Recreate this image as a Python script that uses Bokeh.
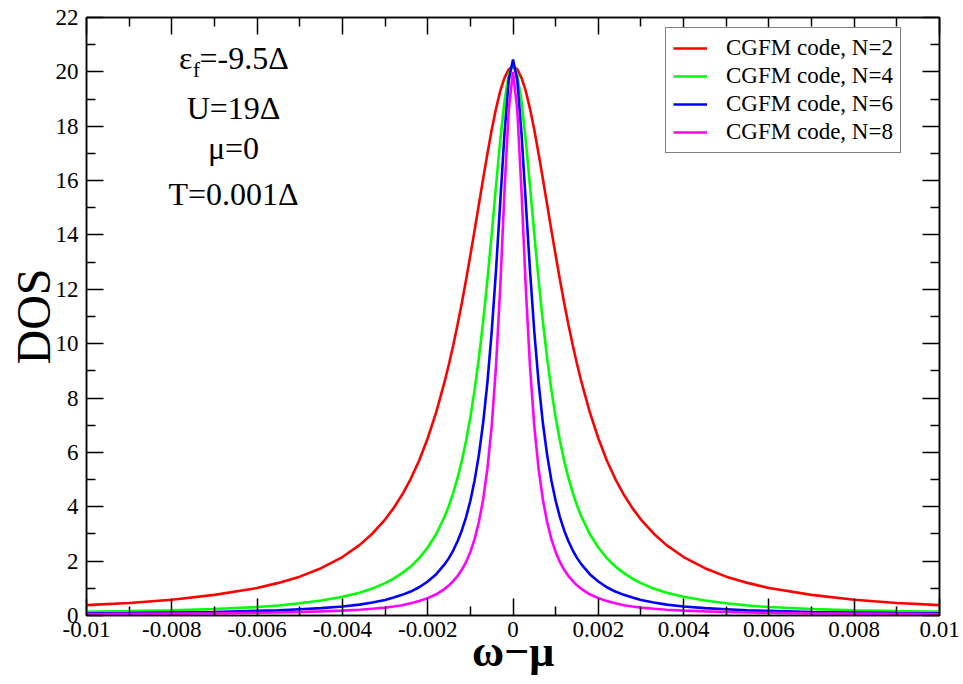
from bokeh.plotting import figure
from bokeh.models import Range1d, LinearAxis, Label, Legend, LegendItem, FixedTicker
from bokeh.embed import file_html
from bokeh.resources import INLINE

# ---- data ----
omega = [-0.01, -0.009, -0.008, -0.007, -0.006, -0.0055, -0.005, -0.0045, -0.004, -0.0036,
         -0.0033, -0.003, -0.0028, -0.0026, -0.0024, -0.0022, -0.002, -0.0018, -0.0016, -0.0015,
         -0.0014, -0.0013, -0.0012, -0.0011, -0.001, -0.0009, -0.0008, -0.0007, -0.0006, -0.0005,
         -0.0004, -0.0003, -0.0002, -0.0001, 0.0,
         0.0001, 0.0002, 0.0003, 0.0004, 0.0005, 0.0006, 0.0007, 0.0008, 0.0009, 0.001,
         0.0011, 0.0012, 0.0013, 0.0014, 0.0015, 0.0016, 0.0018, 0.002, 0.0022, 0.0024,
         0.0026, 0.0028, 0.003, 0.0033, 0.0036, 0.004, 0.0045, 0.005, 0.0055, 0.006,
         0.007, 0.008, 0.009, 0.01]

dos_n2 = [0.38, 0.46, 0.58, 0.76, 1.01, 1.20, 1.43, 1.74, 2.15, 2.59,
          3.01, 3.53, 3.95, 4.44, 5.02, 5.70, 6.52, 7.48, 8.62, 9.26,
          9.95, 10.70, 11.50, 12.35, 13.25, 14.17, 15.12, 16.07, 16.99, 17.86,
          18.63, 19.29, 19.78, 20.09, 20.2,
          20.09, 19.78, 19.29, 18.63, 17.86, 16.99, 16.07, 15.12, 14.17, 13.25,
          12.35, 11.50, 10.70, 9.95, 9.26, 8.62, 7.48, 6.52, 5.70, 5.02,
          4.44, 3.95, 3.53, 3.01, 2.59, 2.15, 1.74, 1.43, 1.20, 1.01,
          0.76, 0.58, 0.46, 0.38]

dos_n4 = [0.14, 0.16, 0.19, 0.24, 0.31, 0.37, 0.45, 0.55, 0.69, 0.84,
          0.99, 1.19, 1.36, 1.56, 1.80, 2.11, 2.50, 3.00, 3.65, 4.05,
          4.52, 5.06, 5.69, 6.43, 7.29, 8.30, 9.47, 10.82, 12.35, 14.02,
          15.77, 17.46, 18.91, 19.90, 20.25,
          19.90, 18.91, 17.46, 15.77, 14.02, 12.35, 10.82, 9.47, 8.30, 7.29,
          6.43, 5.69, 5.06, 4.52, 4.05, 3.65, 3.00, 2.50, 2.11, 1.80,
          1.56, 1.36, 1.19, 0.99, 0.84, 0.69, 0.55, 0.45, 0.37, 0.31,
          0.24, 0.19, 0.16, 0.14]

dos_n6 = [0.08, 0.09, 0.11, 0.13, 0.17, 0.19, 0.23, 0.27, 0.33, 0.40,
          0.48, 0.57, 0.66, 0.76, 0.88, 1.04, 1.25, 1.52, 1.89, 2.12,
          2.40, 2.73, 3.13, 3.62, 4.22, 4.97, 5.91, 7.09, 8.58, 10.43,
          12.66, 15.19, 17.72, 19.69, 20.45,
          19.69, 17.72, 15.19, 12.66, 10.43, 8.58, 7.09, 5.91, 4.97, 4.22,
          3.62, 3.13, 2.73, 2.40, 2.12, 1.89, 1.52, 1.25, 1.04, 0.88,
          0.76, 0.66, 0.57, 0.48, 0.40, 0.33, 0.27, 0.23, 0.19, 0.17,
          0.13, 0.11, 0.09, 0.08]

dos_n8 = [0.05, 0.06, 0.07, 0.08, 0.10, 0.11, 0.13, 0.15, 0.18, 0.21,
          0.25, 0.29, 0.33, 0.38, 0.45, 0.53, 0.64, 0.78, 0.98, 1.11,
          1.27, 1.45, 1.68, 1.97, 2.34, 2.81, 3.44, 4.27, 5.40, 6.96,
          9.13, 12.04, 15.59, 18.6, 20.0,
          18.6, 15.59, 12.04, 9.13, 6.96, 5.40, 4.27, 3.44, 2.81, 2.34,
          1.97, 1.68, 1.45, 1.27, 1.11, 0.98, 0.78, 0.64, 0.53, 0.45,
          0.38, 0.33, 0.29, 0.25, 0.21, 0.18, 0.15, 0.13, 0.11, 0.10,
          0.08, 0.07, 0.06, 0.05]

series_labels = ["CGFM code, N=2", "CGFM code, N=4", "CGFM code, N=6", "CGFM code, N=8"]
series_colors = ["#ff0000", "#00ff00", "#0000ff", "#ff00ff"]

x_ticks = [-0.01, -0.008, -0.006, -0.004, -0.002, 0.0, 0.002, 0.004, 0.006, 0.008, 0.01]
x_tick_labels = ["-0.01", "-0.008", "-0.006", "-0.004", "-0.002", "0",
                 "0.002", "0.004", "0.006", "0.008", "0.01"]
x_minor = [-0.009, -0.007, -0.005, -0.003, -0.001, 0.001, 0.003, 0.005, 0.007, 0.009]
y_ticks = [0, 2, 4, 6, 8, 10, 12, 14, 16, 18, 20, 22]
y_minor = [1, 3, 5, 7, 9, 11, 13, 15, 17, 19, 21]

x_title = "ω−μ"
y_title = "DOS"
params = ["U=19Δ", "μ=0", "T=0.001Δ"]

FONT = "Liberation Serif"

p = figure(width=963, height=684, output_backend="svg", toolbar_location=None,
           x_range=Range1d(-0.01, 0.01), y_range=Range1d(0, 22),
           min_border_left=86, min_border_right=24, min_border_top=17, min_border_bottom=69)
p.background_fill_color = "white"
p.border_fill_color = "white"
p.outline_line_color = "black"
p.outline_line_width = 1.5
p.xgrid.visible = False
p.ygrid.visible = False

def style_axis(ax, ticks, minor, show_labels):
    ax.ticker = FixedTicker(ticks=ticks, minor_ticks=minor)
    ax.major_tick_in = 17
    ax.major_tick_out = 0
    ax.minor_tick_in = 9
    ax.minor_tick_out = 0
    ax.major_tick_line_color = "black"
    ax.minor_tick_line_color = "black"
    ax.major_tick_line_width = 1.5
    ax.minor_tick_line_width = 1.5
    ax.axis_line_color = "black"
    ax.axis_line_width = 1.5
    ax.major_label_text_font = FONT
    ax.axis_label_text_font = FONT
    ax.axis_label_text_color = "black"
    if show_labels:
        ax.major_label_text_color = "black"
        ax.major_label_text_font_size = "23px"
    else:
        ax.axis_label = None
        ax.major_label_text_color = None
        ax.major_label_text_font_size = "1px"
        ax.major_label_standoff = 0

xa = p.xaxis[0]
style_axis(xa, x_ticks, x_minor, True)
xa.major_label_overrides = {t: s for t, s in zip(x_ticks, x_tick_labels)}
xa.major_label_standoff = 6
xa.axis_label = x_title
xa.axis_label_text_font_size = "44px"
xa.axis_label_text_font_style = "bold"
xa.axis_label_standoff = -13

ya = p.yaxis[0]
style_axis(ya, y_ticks, y_minor, True)
ya.major_label_standoff = 8
ya.axis_label = y_title
ya.axis_label_text_font_size = "48px"
ya.axis_label_text_font_style = "normal"
ya.axis_label_standoff = -7

top = LinearAxis()
style_axis(top, x_ticks, x_minor, False)
p.add_layout(top, "above")
right = LinearAxis()
style_axis(right, y_ticks, y_minor, False)
p.add_layout(right, "right")

renderers = []
for ys, c in zip([dos_n2, dos_n4, dos_n6, dos_n8], series_colors):
    r = p.line(omega, ys, line_color=c, line_width=2.6)
    renderers.append(r)

legend = Legend(items=[LegendItem(label=l, renderers=[r]) for l, r in zip(series_labels, renderers)],
                location=(579, 462))
legend.label_text_font = FONT
legend.label_text_font_size = "23px"
legend.label_text_color = "black"
legend.border_line_color = "black"
legend.border_line_width = 1.5
legend.background_fill_alpha = 1
legend.glyph_width = 34
legend.glyph_height = 22
legend.label_height = 22
legend.label_standoff = 19
legend.spacing = 2
legend.padding = 7
legend.margin = 0
p.add_layout(legend, "center")

# annotation block (top-left)
ann_font = "32px"
dy = 0.38
p.add_layout(Label(x=-0.007832, y=20.125 + dy, text="ε", text_font=FONT, text_font_size=ann_font,
                   text_align="left", text_baseline="alphabetic", text_color="black"))
p.add_layout(Label(x=-0.007503, y=19.68 + dy, text="f", text_font=FONT, text_font_size="21px",
                   text_align="left", text_baseline="alphabetic", text_color="black"))
p.add_layout(Label(x=-0.007351, y=20.125 + dy, text="=-9.5Δ", text_font=FONT, text_font_size=ann_font,
                   text_align="left", text_baseline="alphabetic", text_color="black"))
for txt, yb in zip(params, [18.286, 16.814, 15.12]):
    p.add_layout(Label(x=-0.006553, y=yb + dy, text=txt, text_font=FONT, text_font_size=ann_font,
                       text_align="center", text_baseline="alphabetic", text_color="black"))

open("out.html", "w").write(file_html(p, INLINE))
